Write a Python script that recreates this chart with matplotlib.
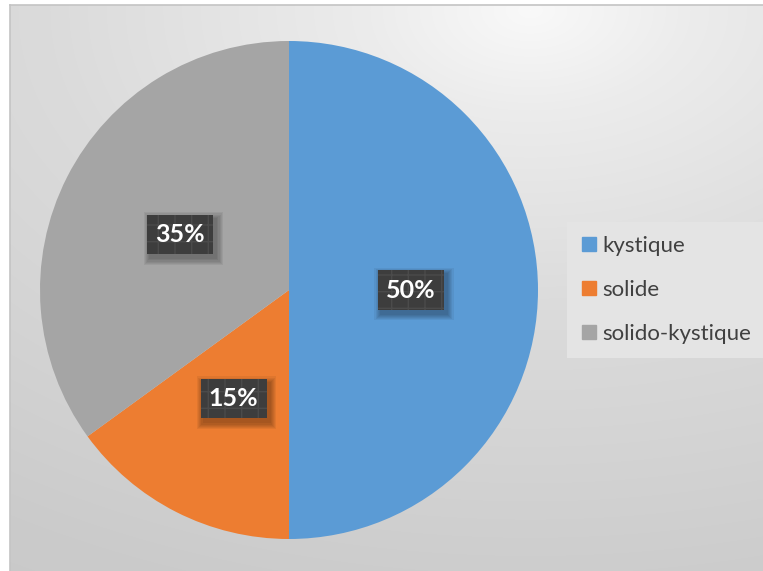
import numpy as np
import matplotlib
matplotlib.use("Agg")
import matplotlib.pyplot as plt
from matplotlib.lines import Line2D
from matplotlib.patches import Rectangle

# Data
categories = ["kystique", "solide", "solido-kystique"]
shares = [50, 15, 35]
colors = ["#5B9BD5", "#ED7D31", "#A5A5A5"]

W, H, DPI = 763, 571, 100
fig = plt.figure(figsize=(W / DPI, H / DPI), dpi=DPI)
fig.patch.set_facecolor("white")

# Chart-area background: soft radial gradient, light near the top
bg = fig.add_axes([0, 0, 1, 1], zorder=0)
bg.set_axis_off()
yy, xx = np.mgrid[0:H, 0:W]
d = np.hypot((xx - 530) / 1.6, (yy - 10))
v = np.interp(d, [0, 100, 300, 400, 600, 800], [249, 236, 219, 214, 203, 198]) / 255.0
img = np.dstack([v, v, v])
img[:, :10] = 1.0
img[:5, :] = 1.0
bg.imshow(img, extent=(0, W, H, 0), interpolation="bilinear", aspect="auto")
bg.plot([10, 10], [H, 5], color="#c4c4c4", lw=1.2)
bg.plot([10, W], [5, 5], color="#c4c4c4", lw=1.2)
bg.set_xlim(0, W)
bg.set_ylim(H, 0)

# Pie
cx, cy, r = 289, 290, 249
pos = [(cx - r) / W, (H - cy - r) / H, 2 * r / W, 2 * r / H]
ax = fig.add_axes(pos, zorder=1)
ax.patch.set_alpha(0)
wedges, _ = ax.pie(shares, colors=colors, startangle=90, counterclock=False,
                   radius=1.0, wedgeprops=dict(linewidth=0))
ax.set_xlim(-1, 1)
ax.set_ylim(-1, 1)
ax.set_aspect("equal")

# Value boxes, placed at the middle angle of each wedge
top = fig.add_axes(pos, zorder=3)
top.set_axis_off()
top.set_xlim(-1, 1)
top.set_ylim(-1, 1)
top.set_aspect("equal")
labels = []
for w, s in zip(wedges, shares):
    mid = np.deg2rad((w.theta1 + w.theta2) / 2)
    labels.append(top.text(0.49 * np.cos(mid), 0.49 * np.sin(mid), f"{s}%",
                           ha="center", va="center", color="white",
                           fontsize=18, fontweight="bold", family="Lato",
                           bbox=dict(boxstyle="square,pad=0.33", fc="#3d3d3d",
                                     ec="#4b4b4b", lw=0, hatch="+")))

# Legend
handles = [Line2D([], [], marker="s", linestyle="none", markersize=10,
                  markerfacecolor=c, markeredgecolor=c) for c in colors]
fig.legend(handles, categories, loc="upper left",
           bbox_to_anchor=(567 / W, 1 - 222 / H),
           frameon=True, fancybox=False, framealpha=1,
           facecolor="#e4e4e4", edgecolor="none",
           prop=dict(family="Lato", size=16), labelcolor="#404040",
           handlelength=0.7, handletextpad=0.25, labelspacing=1.08,
           borderpad=0.62, borderaxespad=0)

# Soft drop shadows under the value boxes (pixel space)
fig.canvas.draw()
sh = fig.add_axes([0, 0, 1, 1], zorder=2)
sh.set_axis_off()
sh.patch.set_alpha(0)
sh.set_xlim(0, W)
sh.set_ylim(0, H)
for t in labels:
    bb = t.get_bbox_patch().get_window_extent()
    for k in range(6):
        g = 1.0 + 1.1 * k
        sh.add_patch(Rectangle((bb.x0 + 3 - g, bb.y0 - 4 - g),
                               bb.width + 2 * g, bb.height + 2 * g,
                               fc="black", ec="none", alpha=0.055))

fig.savefig("out.png", dpi=DPI)
